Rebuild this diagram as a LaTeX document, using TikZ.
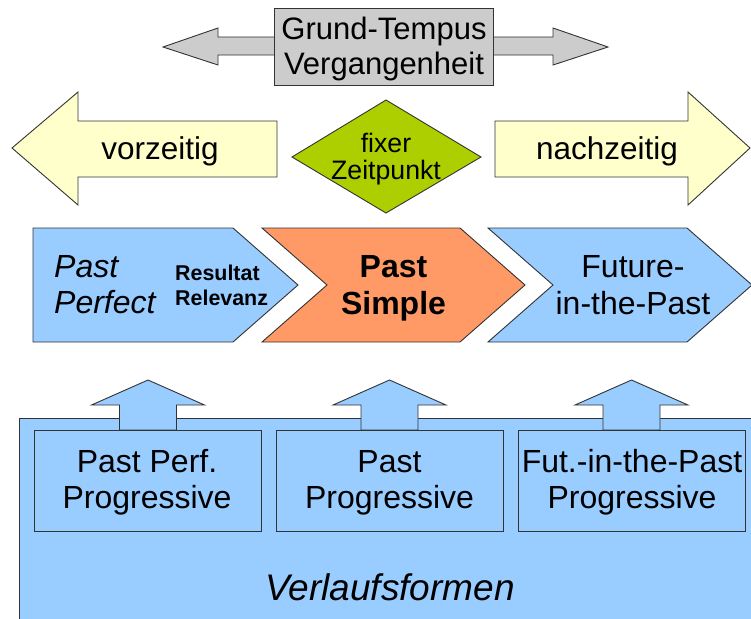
\documentclass[tikz,border=0pt]{standalone}
\usepackage{fontspec}
\setmainfont{Liberation Sans}
\definecolor{blueC}{HTML}{99CCFF}
\definecolor{yellowC}{HTML}{FFFFCC}
\definecolor{grayC}{HTML}{CCCCCC}
\definecolor{orangeC}{HTML}{FF9966}
\definecolor{greenC}{HTML}{ADCF00}
\definecolor{lineC}{HTML}{333333}
\newcommand{\twol}[3][c]{\begin{tabular}[t]{@{}#1@{}}#2\\#3\end{tabular}}
\begin{document}
\begin{tikzpicture}[x=1pt,y=-1pt,line join=miter,
  outl/.style={draw=lineC,line width=0.9pt},
  txt/.style={inner sep=0pt,anchor=base},
  big/.style={font=\fontsize{31.5}{36}\selectfont}]
\useasboundingbox (0,0) rectangle (751,618);
\clip (0,0) rectangle (751,618);

% top double arrow
\path[outl,fill=grayC] (163,47) -- (218,28) -- (218,37) -- (553,37) -- (553,28) -- (608,47)
  -- (553,65) -- (553,55) -- (218,55) -- (218,65) -- cycle;
\path[outl,fill=grayC] (274,8) rectangle (493,85);
\node[txt,font=\fontsize{31}{35}\selectfont] (grund) at (384,40) {\twol{Grund-Tempus}{Vergangenheit}};

% yellow arrows
\path[outl,fill=yellowC] (12,148) -- (78,92) -- (78,121) -- (277,121) -- (277,177) -- (78,177) -- (78,205) -- cycle;
\node[txt,big] (vor) at (160,159) {vorzeitig};
\path[outl,fill=yellowC] (495,121) -- (688,121) -- (688,92) -- (750,148) -- (688,205) -- (688,177) -- (495,177) -- cycle;
\node[txt,big] (nach) at (607,159) {nachzeitig};

% diamond
\path[outl,fill=greenC] (292,157) -- (386,100) -- (481,157) -- (386,213) -- cycle;
\node[txt,font=\fontsize{26.7}{27}\selectfont] (fix) at (386,152) {\twol{fixer}{Zeitpunkt}};

% chevrons
\path[outl,fill=blueC] (33,228) -- (233,228) -- (298,285) -- (233,342) -- (33,342) -- cycle;
\node[txt,font=\fontsize{32}{36}\selectfont\itshape,anchor=base west] (pp) at (54,277) {\twol[l]{Past}{Perfect}};
\node[txt,font=\fontsize{21.4}{25}\selectfont\bfseries,anchor=base west] (res) at (175,280) {\twol[l]{Resultat}{Relevanz}};
\path[outl,fill=orangeC] (262,228) -- (460,228) -- (525,285) -- (460,342) -- (262,342) -- (327,285) -- cycle;
\node[txt,font=\fontsize{32}{37}\selectfont\bfseries] (ps) at (393.5,277) {\twol{Past}{Simple}};
\path[outl,fill=blueC] (488,228) -- (687,228) -- (752,285) -- (687,342) -- (488,342) -- (553,285) -- cycle;
\node[txt,font=\fontsize{32}{37}\selectfont] (fip) at (633,277) {\twol{Future-}{in-the-Past}};

% bottom structure
\path[outl,fill=blueC] (19,418) rectangle (770,640);
\foreach \c in {148,389.5,631.5}{
  \path[outl,fill=blueC] (\c,380) -- (\c+56.5,405) -- (\c+28.5,405) -- (\c+28.5,430)
    -- (\c-28.5,430) -- (\c-28.5,405) -- (\c-56.5,405) -- cycle;
}
\path[outl,fill=blueC] (34,430) rectangle (261,531);
\path[outl,fill=blueC] (276,430) rectangle (503,531);
\path[outl,fill=blueC] (518,430) rectangle (745,531);
\node[txt,font=\fontsize{32}{36}\selectfont] (ppp) at (147,472) {\twol{Past Perf.}{Progressive}};
\node[txt,font=\fontsize{32}{36}\selectfont] (pprog) at (389.5,472) {\twol{Past}{Progressive}};
\node[txt,font=\fontsize{32}{36}\selectfont] (fprog) at (632,472) {\twol{Fut.-in-the-Past}{Progressive}};
\node[txt,font=\fontsize{37}{40}\selectfont\itshape] (verl) at (390,600) {Verlaufsformen};
\end{tikzpicture}
\end{document}
